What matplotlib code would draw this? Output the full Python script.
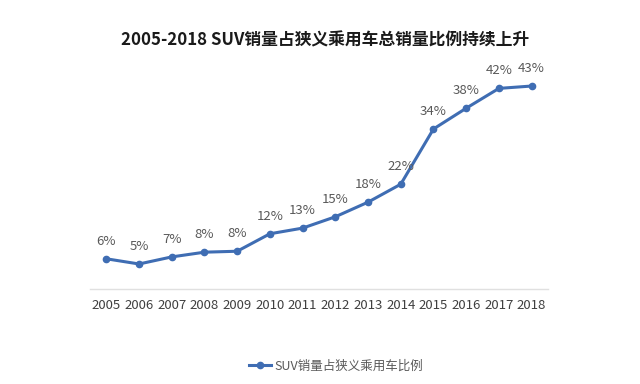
import matplotlib
matplotlib.use("Agg")
import matplotlib.pyplot as plt
from matplotlib.lines import Line2D

plt.rcParams['font.family'] = ['Noto Sans CJK SC', 'DejaVu Sans']

years = ['2005', '2006', '2007', '2008', '2009', '2010', '2011', '2012',
         '2013', '2014', '2015', '2016', '2017', '2018']
share = [6.4, 5.3, 6.8, 7.8, 8.0, 11.7, 12.9, 15.3, 18.4, 22.2, 33.9, 38.3, 42.5, 43.0]
labels = ['6%', '5%', '7%', '8%', '8%', '12%', '13%', '15%', '18%', '22%',
          '34%', '38%', '42%', '43%']
series_name = 'SUV销量占狭义乘用车比例'
title = '2005-2018 SUV销量占狭义乘用车总销量比例持续上升'

color = '#3f6db3'
fig = plt.figure(figsize=(6.4, 3.84), dpi=100)
ax = fig.add_axes([0.1406, 0.2474, 0.7156, 0.6146])
x = list(range(len(years)))
ax.plot(x, share, color=color, lw=2.2, marker='o', ms=4.5)
for xi, v, lab in zip(x, share, labels):
    ax.annotate(lab, (xi, v), xytext=(0, 8), textcoords='offset points',
                ha='center', va='bottom', fontsize=9.5, color='#595959')
ax.set_xlim(-0.5, len(years) - 0.5)
ax.set_ylim(0, 50)
ax.set_xticks(x)
ax.set_xticklabels(years, fontsize=9.5, color='#404040')
ax.tick_params(axis='x', length=0, pad=7)
ax.set_yticks([])
for s in ['top', 'right', 'left']:
    ax.spines[s].set_visible(False)
ax.spines['bottom'].set_color('#e0e0e0')
ax.spines['bottom'].set_linewidth(1)

fig.text(0.508, 0.895, title, ha='center', va='center', fontsize=12.1,
         fontweight='bold', color='#1a1a1a')

handle = Line2D([0], [0], color=color, lw=2.2, marker='o', ms=4.5)
fig.legend([handle], [series_name], loc='center', bbox_to_anchor=(0.525, 0.047),
           frameon=False, fontsize=9, labelcolor='#595959', handlelength=1.8,
           handletextpad=0.3)

fig.savefig('out.png', dpi=100, facecolor='white')
